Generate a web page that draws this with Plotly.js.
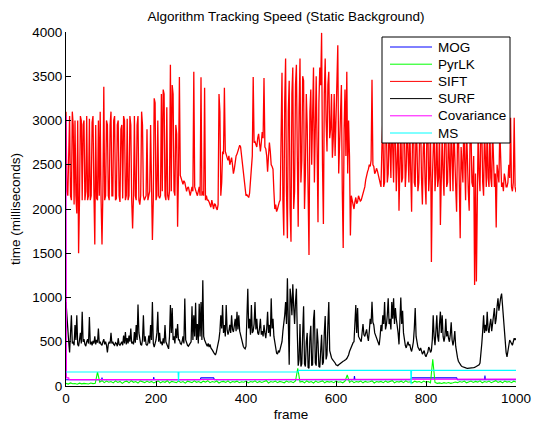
<!DOCTYPE html>
<html>
<head>
<meta charset="utf-8">
<script src="https://cdn.plot.ly/plotly-3.0.1.min.js"></script>
<style>html,body{margin:0;padding:0;background:#fff;}#chart{width:535px;height:425px;}</style>
</head>
<body>
<div id="chart"></div>
<script>
// ---- data ----
var seriesNames = ['MOG', 'PyrLK', 'SIFT', 'SURF', 'Covariance', 'MS'];
var seriesColors = ['#0000ff', '#00ff00', '#ff0000', '#000000', '#ff00ff', '#00ffff'];

// SIFT and SURF sampled every 2 frames (0..1000), one row per 100 frames
var siftValues = [
  3100,2200,2150,2900,3050,2150,2100,3100,2950,2050,3000,2150,1950,3000,1500,2100,3050,3000,2100,2950,3000,2100,2200,3050,2100,2150,3020,2100,2150,2980,3050,2200,1600,2950,2120,2100,3000,2150,3100,2100,1600,2200,3380,2100,2150,3000,2950,2150,2100,2950,
  3100,2150,2150,3000,3050,2100,2120,2950,3000,2150,2080,2900,2950,2120,3050,3000,2100,2150,3020,2100,2150,3050,2950,2100,1780,2150,3050,2150,2100,2950,3050,2100,2050,2150,3100,2950,2150,2100,2120,2150,2900,2100,2150,2200,2950,2150,1650,2100,3250,3200,
  2100,2150,3000,2150,2120,2150,3300,2200,3350,3300,2150,2100,3150,2150,2100,2200,3630,2200,3400,3300,2200,2150,2950,2850,1800,2400,3490,2380,2350,2300,2280,2320,2300,2250,2200,2240,2250,2200,2150,2200,2250,2200,3550,2250,2200,2180,2150,2200,2250,2150,
  3490,2150,2200,2150,3370,2100,2150,2100,2100,2080,2050,2020,2100,2040,2000,2060,2050,2010,1990,2050,3300,3100,2150,2300,2650,2620,3370,2650,2600,2580,2550,2600,2500,2540,2580,2500,2400,2450,2550,2600,2620,2650,2680,2720,2700,2600,2500,2400,2300,2220,
  2150,2160,2140,2130,2180,2300,2450,2600,3490,2750,2760,2720,2700,2800,2850,2750,2650,2750,2870,2800,3480,2700,2680,2600,2420,2600,2750,2650,2500,2480,2450,2200,2000,2050,1970,2000,2050,2080,2100,3000,3540,2100,1700,3200,3700,2200,1670,3100,3450,2000,
  1630,3300,3600,2000,2200,3400,3630,2600,1800,3100,3700,2300,2550,3500,3450,2000,2400,3300,2950,2200,1480,3100,3350,2500,3250,3600,2300,3000,3500,2700,1850,3200,3600,3400,3990,2500,1830,3300,3700,3000,2650,3400,3550,2800,2900,3300,2580,2800,3300,2600,
  2950,3300,3850,2400,2700,3250,3400,2200,1560,2900,3350,2600,3550,2400,3000,2600,1700,2150,2100,2050,2000,2080,2130,2060,2080,2150,2120,2090,2100,2140,2160,2200,2250,2330,2400,2420,2450,2500,2480,2550,3460,2500,2480,2400,2420,2460,2430,2380,2330,2300,
  2250,2700,3000,2250,2300,3100,2900,2300,2400,3000,2650,2350,3100,2450,2300,3050,2800,2200,2500,2900,1980,2400,3000,2300,2350,3100,2900,2250,2450,3000,2600,2300,2900,2400,1970,2800,3100,2300,2250,2950,2700,2200,2300,2900,3000,2350,2050,2700,2800,2300,
  2050,2900,3000,2200,2400,2950,1400,2300,2900,3000,2200,2400,2950,2250,2350,2900,1820,2300,2850,2400,2150,3000,2950,2250,2300,2900,2450,2200,3000,2350,2200,2950,2400,2250,1970,2800,2900,2100,1670,2700,2450,2300,3000,2400,2100,2950,2500,2200,1980,2850,
  2900,2300,2250,2600,1140,2400,1180,2300,2950,2400,2200,2950,2900,2300,2150,2900,2400,2250,3000,2350,2250,2900,2350,2250,2900,2400,2250,2400,1790,2500,2350,2300,2900,2400,2250,2300,2200,2400,2350,2250,2250,2300,2500,2350,3030,2250,2200,2300,3030,2250,
  2190
];
var surfValues = [
  950,760,700,500,380,560,800,480,500,460,690,520,800,470,450,520,600,480,840,500,530,470,450,500,530,480,780,470,500,460,510,480,560,470,520,490,650,480,500,470,460,500,530,470,500,460,380,470,500,480,
  600,480,500,470,460,490,480,450,540,470,460,480,500,460,570,480,610,470,540,480,570,500,650,480,500,470,610,490,690,520,920,600,500,470,460,520,800,500,560,470,460,480,570,480,690,520,950,480,440,470,
  520,600,840,500,600,480,500,460,540,480,690,500,470,440,420,560,915,600,880,520,560,480,650,540,700,520,520,480,470,500,560,480,990,520,480,460,450,470,480,500,900,520,800,560,940,520,700,480,930,560,
  950,520,1195,560,520,480,470,450,480,440,470,430,420,400,380,360,350,380,420,480,530,620,800,650,915,600,690,560,915,640,580,620,690,600,800,640,610,680,760,620,840,640,800,620,580,520,470,450,430,420,
  450,700,1100,650,760,580,915,600,620,700,950,640,760,600,580,650,760,580,620,560,690,600,540,650,840,600,690,560,990,650,760,560,500,420,370,360,400,380,430,460,500,620,690,800,950,700,1217,600,240,1100,
  1000,800,1150,900,700,950,1100,600,230,300,700,220,250,600,900,250,220,500,600,210,200,550,680,230,240,750,860,260,230,650,500,220,210,400,580,240,270,600,790,300,350,700,950,400,350,320,300,290,280,260,
  240,235,230,240,250,255,260,270,280,285,290,300,310,330,350,390,420,450,480,490,500,700,915,600,880,560,530,520,500,600,700,580,560,600,640,560,510,620,760,700,953,720,690,600,570,530,500,480,460,560,
  690,620,800,700,950,640,690,800,990,700,760,640,950,760,990,700,880,760,690,600,470,800,1000,700,850,600,500,460,430,480,500,460,470,420,390,440,500,650,880,560,480,440,420,400,430,380,360,380,400,350,
  330,360,380,440,420,380,400,520,800,560,460,620,800,560,500,700,840,600,800,560,500,560,760,560,620,540,500,580,720,520,460,520,620,450,370,320,280,260,240,230,220,215,210,208,205,202,200,200,200,200,
  200,202,205,208,210,215,220,225,230,240,260,350,480,620,800,600,690,620,840,640,600,700,760,620,690,800,880,700,760,900,990,850,950,1000,1045,900,760,600,460,380,330,400,460,520,500,480,460,500,540,520,
  540
];

// PyrLK sampled every 5 frames (0..1000)
var pyrlkValues = [
  30,22,35,25,28,20,32,24,30,26,22,34,27,30,158,45,60,38,55,42,
  50,35,58,40,52,30,48,55,36,60,42,50,33,57,45,38,55,40,52,35,
  48,58,36,50,42,60,34,52,45,38,56,40,50,32,54,46,38,58,42,50,
  36,55,44,60,38,50,42,56,34,48,52,40,58,36,50,44,55,38,48,42,
  56,35,50,44,58,38,52,40,48,60,34,50,42,56,38,52,46,36,55,42,
  50,38,56,200,44,52,36,58,42,50,34,55,40,48,58,36,52,44,50,38,
  56,42,48,36,54,124,40,58,38,50,44,56,36,52,42,48,58,34,50,44,
  52,38,56,42,48,60,36,50,44,54,38,58,42,48,36,55,44,50,38,56,
  42,50,36,302,40,30,35,28,38,32,40,30,36,45,38,50,42,55,36,48,
  56,40,52,44,58,36,50,42,55,38,48,60,40,52,36,56,44,50,38,54,
  45
];

// MOG, Covariance and MS are nearly flat: breakpoints (frame, value)
var mogFrames = [0, 79, 80, 81, 194, 195, 196, 298, 300, 328, 330, 640, 641, 642, 766, 768, 868, 870, 930, 931, 932, 1000];
var mogValues = [70, 70, 95, 70, 70, 100, 70, 70, 92, 92, 70, 70, 112, 70, 70, 92, 92, 70, 70, 118, 70, 70];

var covFrames = [0, 1, 6, 7, 250, 500, 750, 815, 1000];
var covValues = [3050, 92, 92, 72, 72, 73, 72, 78, 78];

var msFrames = [0, 249, 250, 251, 516, 517, 766, 767, 768, 1000];
var msValues = [158, 158, 55, 158, 158, 176, 176, 20, 176, 176];

var xTicks = [0, 200, 400, 600, 800, 1000];
var yTicks = [0, 500, 1000, 1500, 2000, 2500, 3000, 3500, 4000];

// frame numbers for the regularly sampled series
function frameList(step, n) { var a = []; for (var i = 0; i < n; i++) a.push(i * step); return a; }
var frames2 = frameList(2, siftValues.length);
var frames5 = frameList(5, pyrlkValues.length);

var xs = [mogFrames, frames5, frames2, frames2, covFrames, msFrames];
var ys = [mogValues, pyrlkValues, siftValues, surfValues, covValues, msValues];
var widths = [1.1, 1.1, 1.3, 1.25, 1.1, 1.1];

var traces = seriesNames.map(function (name, i) {
  return {
    type: 'scatter', mode: 'lines', name: name,
    x: xs[i], y: ys[i],
    line: { color: seriesColors[i], width: widths[i] },
    hoverinfo: 'skip', showlegend: false
  };
});

var FONT = 'Liberation Sans, Arial, Helvetica, sans-serif';
var FS = 13.5;

// MATLAB-style legend box (paper coordinates of the axes area)
var plotL = 66, plotR = 516, plotT = 32, plotB = 386;
function px2x(p) { return (p - plotL) / (plotR - plotL); }
function py2y(p) { return (plotB - p) / (plotB - plotT); }
var legBox = { l: 382, r: 510, t: 37, b: 143 };
var legRow0 = 47, legRowStep = 17.2, legLineL = 390, legLineR = 432, legTextL = 436;

var shapes = [{
  type: 'rect', xref: 'paper', yref: 'paper', layer: 'above',
  x0: px2x(legBox.l), x1: px2x(legBox.r), y0: py2y(legBox.b), y1: py2y(legBox.t),
  fillcolor: '#ffffff', line: { color: '#000000', width: 1 }
}];
var annotations = [];
seriesNames.forEach(function (name, i) {
  var yy = py2y(legRow0 + i * legRowStep);
  shapes.push({
    type: 'line', xref: 'paper', yref: 'paper', layer: 'above',
    x0: px2x(legLineL), x1: px2x(legLineR), y0: yy, y1: yy,
    line: { color: seriesColors[i], width: 1 }
  });
  annotations.push({
    xref: 'paper', yref: 'paper', x: px2x(legTextL), y: yy,
    xanchor: 'left', yanchor: 'middle', showarrow: false, text: name,
    font: { family: FONT, size: FS, color: '#000000' }
  });
});

var layout = {
  width: 535, height: 425,
  margin: { l: plotL, r: 535 - plotR, t: plotT, b: 425 - plotB, pad: 0 },
  paper_bgcolor: '#ffffff', plot_bgcolor: '#ffffff',
  font: { family: FONT, size: FS, color: '#000000' },
  showlegend: false,
  title: {
    text: 'Algorithm Tracking Speed (Static Background)',
    font: { family: FONT, size: FS, color: '#000000' },
    xref: 'container', x: 286 / 535, xanchor: 'center',
    yref: 'container', y: 1 - 16 / 425, yanchor: 'middle'
  },
  xaxis: {
    range: [0, 1000], tickvals: xTicks, ticktext: xTicks.map(String),
    ticks: 'inside', ticklen: 5, tickwidth: 1, tickcolor: '#000',
    showline: true, linecolor: '#000', linewidth: 1, mirror: false,
    showgrid: false, zeroline: false, automargin: false,
    tickfont: { family: FONT, size: FS, color: '#000' },
    title: { text: 'frame', font: { family: FONT, size: FS, color: '#000' }, standoff: 4 }
  },
  yaxis: {
    range: [0, 4000], tickvals: yTicks, ticktext: yTicks.map(String),
    ticks: 'inside', ticklen: 5, tickwidth: 1, tickcolor: '#000',
    showline: true, linecolor: '#000', linewidth: 1, mirror: false,
    showgrid: false, zeroline: false, automargin: false,
    tickfont: { family: FONT, size: FS, color: '#000' },
    title: { text: 'time (milliseconds)', font: { family: FONT, size: FS, color: '#000' }, standoff: 8 }
  },
  shapes: shapes,
  annotations: annotations
};

Plotly.newPlot('chart', traces, layout, { staticPlot: true, displayModeBar: false });
</script>
</body>
</html>
